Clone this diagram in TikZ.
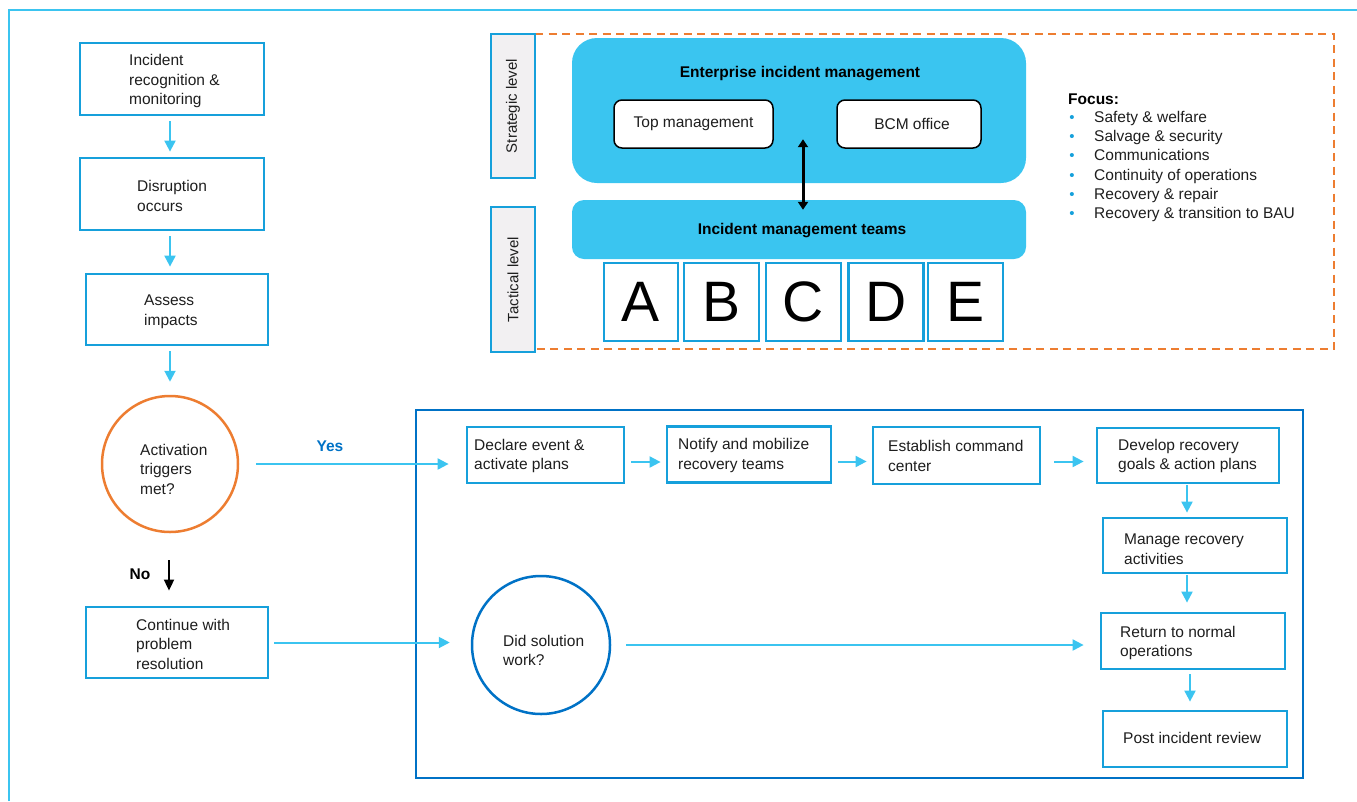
\documentclass[tikz,border=0pt]{standalone}
\usepackage{fontspec}
\setmainfont{Liberation Sans}
\usetikzlibrary{arrows.meta,calc}
\definecolor{boxblue}{RGB}{22,160,219}
\definecolor{arrblue}{RGB}{59,196,240}
\definecolor{panelblue}{RGB}{58,197,240}
\definecolor{darkblue}{RGB}{0,114,198}
\definecolor{orng}{RGB}{237,125,49}
\definecolor{lvlgray}{RGB}{242,240,242}
\definecolor{txtc}{RGB}{30,30,30}
\begin{document}
\begin{tikzpicture}[x=1pt,y=-1pt,
  box/.style={draw=boxblue,line width=2.8pt,fill=white,inner sep=0pt},
  lvl/.style={draw=boxblue,line width=2.8pt,fill=lvlgray,inner sep=0pt,minimum width=44pt},
  letterbox/.style={draw=boxblue,line width=2.8pt,fill=white,inner sep=0pt,minimum height=78pt,text=black,font=\fontsize{57}{60}\selectfont},
  panel/.style={fill=panelblue,rounded corners=#1,inner sep=0pt},
  wbox/.style={draw=black,line width=1.5pt,fill=white,rounded corners=8pt,inner sep=0pt,minimum height=48pt,text=txtc,font=\fontsize{15.5}{19.5}\selectfont},
  txt/.style={anchor=west,align=left,text=txtc,font=\fontsize{15.5}{19.5}\selectfont,inner sep=0pt},
  btxt/.style={text=black,font=\fontsize{15.5}{19.5}\selectfont\bfseries,inner sep=0pt},
  arr/.style={draw=arrblue,line width=2pt,-{Triangle[length=11pt,width=11pt]}},
  barr/.style={draw=black,line width=1.8pt,-{Triangle[length=11pt,width=10pt]}},
]
\useasboundingbox (0,0) rectangle (1357,801);
% outer frame
\draw[arrblue,line width=2pt] (9,801) -- (9,10) -- (1357,10);

% ---------- left column ----------
\node[box,minimum width=184pt,minimum height=72pt] (n1) at (172,79) {};
\node[txt] (t1) at (129,81) {Incident\\recognition \&\\monitoring};
\node[box,minimum width=184pt,minimum height=72pt] (n2) at (172,194) {};
\node[txt] (t2) at (137,196) {Disruption\\occurs};
\node[box,minimum width=182pt,minimum height=71pt] (n3) at (177,309.5) {};
\node[txt] (t3) at (144,312) {Assess\\impacts};
\node[draw=orng,line width=2.5pt,circle,minimum size=136pt,inner sep=0pt] (act) at (170,464) {};
\node[txt] (t4) at (140,469) {Activation\\triggers\\met?};
\node[box,minimum width=182pt,minimum height=71pt] (n5) at (177,642.5) {};
\node[txt] (t5) at (136,644) {Continue with\\problem\\resolution};

\draw[arr,shorten <=5pt,shorten >=5pt] ([xshift=-2pt]n1.south) -- ([xshift=-2pt]n2.north);
\draw[arr,shorten <=5pt,shorten >=6pt] ([xshift=-2pt]n2.south) -- ([xshift=-2pt]n2.south |- n3.north);
\draw[arr,shorten <=5pt,shorten >=13pt] (act.north |- n3.south) -- (act.north);
\draw[barr,shorten <=27pt,shorten >=15pt] ([xshift=-1pt]act.south) -- ([xshift=-1pt]act.south |- n5.north);
\node[btxt] (no) at (140,574) {No};

% ---------- top panel ----------
\draw[orng,line width=2pt,dash pattern=on 8pt off 5.5pt] (535,34) -- (1334,34) -- (1334,349) -- (535,349);
\node[lvl,minimum height=144pt] (strat) at (513,106) {};
\node[rotate=90,text=txtc,font=\fontsize{15}{18}\selectfont] (stratt) at (strat.center) {Strategic level};
\node[lvl,minimum height=145pt] (tact) at (513,279.5) {};
\node[rotate=90,text=txtc,font=\fontsize{15}{18}\selectfont] (tactt) at (tact.center) {Tactical level};

\node[panel=25pt,minimum width=454pt,minimum height=145pt] (ent) at (799,110.5) {};
\node[btxt] (entt) at (800,74) {Enterprise incident management};
\node[wbox,minimum width=159pt] (top) at (693.5,124) {\raisebox{-2pt}{Top management}};
\node[wbox,minimum width=144pt] (bcm) at (909,124) {\hspace{6pt}\raisebox{-2pt}{BCM office}};
\node[panel=12pt,minimum width=454pt,minimum height=59pt] (imt) at (799,229.5) {};
\node[btxt] (imtt) at (802,231) {Incident management teams};
\draw[draw=black,line width=3pt,{Triangle[length=8pt,width=10pt]}-{Triangle[length=8pt,width=10pt]}] ($(ent.south)+(4,-44)$) -- ($(imt.north)+(4,10)$);

\node[letterbox,minimum width=74pt] (A) at (641,302) {A};
\node[letterbox,minimum width=75pt] (B) at (721.5,302) {B};
\node[letterbox,minimum width=75pt] (C) at (803.5,302) {C};
\node[letterbox,minimum width=75pt] (D) at (886,302) {D};
\node[letterbox,minimum width=75pt] (E) at (965.5,302) {E};

\node[btxt,anchor=base west] (focus) at (1068,104) {Focus:};
\foreach \i/\t in {0/Safety \& welfare,1/Salvage \& security,2/Communications,3/Continuity of operations,4/Recovery \& repair,5/Recovery \& transition to BAU}{
  \node[text=boxblue,font=\fontsize{15}{16}\selectfont,inner sep=0pt,anchor=base] (b\i) at (1072,122.5+19.2*\i) {•};
  \node[txt,anchor=base west] (f\i) at (1094,122.5+19.2*\i) {\t};
}

% ---------- lower box ----------
\node[draw=darkblue,line width=2.8pt,minimum width=887pt,minimum height=368pt,inner sep=0pt] (big) at (859.5,594) {};
\node[box,minimum width=157pt,minimum height=56pt] (d1) at (545.5,455) {};
\node[txt] (s1) at (474,456) {Declare event \&\\activate plans};
\node[box,minimum width=164pt,minimum height=56pt] (d2) at (749,454.5) {};
\node[txt] (s2) at (678,455.5) {Notify and mobilize\\recovery teams};
\node[box,minimum width=167pt,minimum height=57pt] (d3) at (956.5,455.5) {};
\node[txt] (s3) at (888,456) {Establish command\\center};
\node[box,minimum width=182pt,minimum height=55pt] (d4) at (1188,455.5) {};
\node[txt] (s4) at (1118,456) {Develop recovery\\goals \& action plans};
\node[box,minimum width=184pt,minimum height=55pt] (d5) at (1195,545.5) {};
\node[txt] (s5) at (1124,549) {Manage recovery\\activities};
\node[box,minimum width=184pt,minimum height=56pt] (d6) at (1193,641) {};
\node[txt] (s6) at (1120,643) {Return to normal\\operations};
\node[box,minimum width=184pt,minimum height=56pt] (d7) at (1195,739) {};
\node[txt] (s7) at (1123,738) {Post incident review};
\node[draw=darkblue,line width=2.5pt,circle,minimum size=138pt,inner sep=0pt,fill=white] (did) at (541,645) {};
\node[txt] (sd) at (503,650.5) {Did solution\\work?};

% connectors
\draw[arr,shorten <=17pt,shorten >=17pt] (act.east) -- (act.east -| d1.west);
\node[btxt,text=darkblue] (yes) at (330,446) {Yes};
\draw[arr,shorten <=6pt,shorten >=5pt] ([yshift=-7pt]d1.east) -- ([yshift=-7pt]d1.east -| d2.west);
\draw[arr,shorten <=6pt,shorten >=5pt] ([yshift=-7pt]d2.east) -- ([yshift=-7pt]d2.east -| d3.west);
\draw[arr,shorten <=13pt,shorten >=12pt] ([yshift=-6pt]d3.east) -- ([yshift=-6pt]d3.east -| d4.west);
\draw[arr,shorten <=1pt,shorten >=4pt] ([xshift=-1pt]d4.south) -- ([xshift=-1pt]d4.south |- d5.north);
\draw[arr,shorten <=1pt,shorten >=9pt] ([xshift=-8pt]d5.south) -- ([xshift=-8pt]d5.south |- d6.north);
\draw[arr,shorten <=4pt,shorten >=8pt] ([xshift=-3pt]d6.south) -- ([xshift=-3pt]d6.south |- d7.north);
\draw[arr,shorten <=5pt,shorten >=21pt] (n5.east) -- (n5.east -| did.west);
\draw[arr,shorten <=15pt,shorten >=16pt] (did.east) -- (did.east -| d6.west);
\end{tikzpicture}
\end{document}
